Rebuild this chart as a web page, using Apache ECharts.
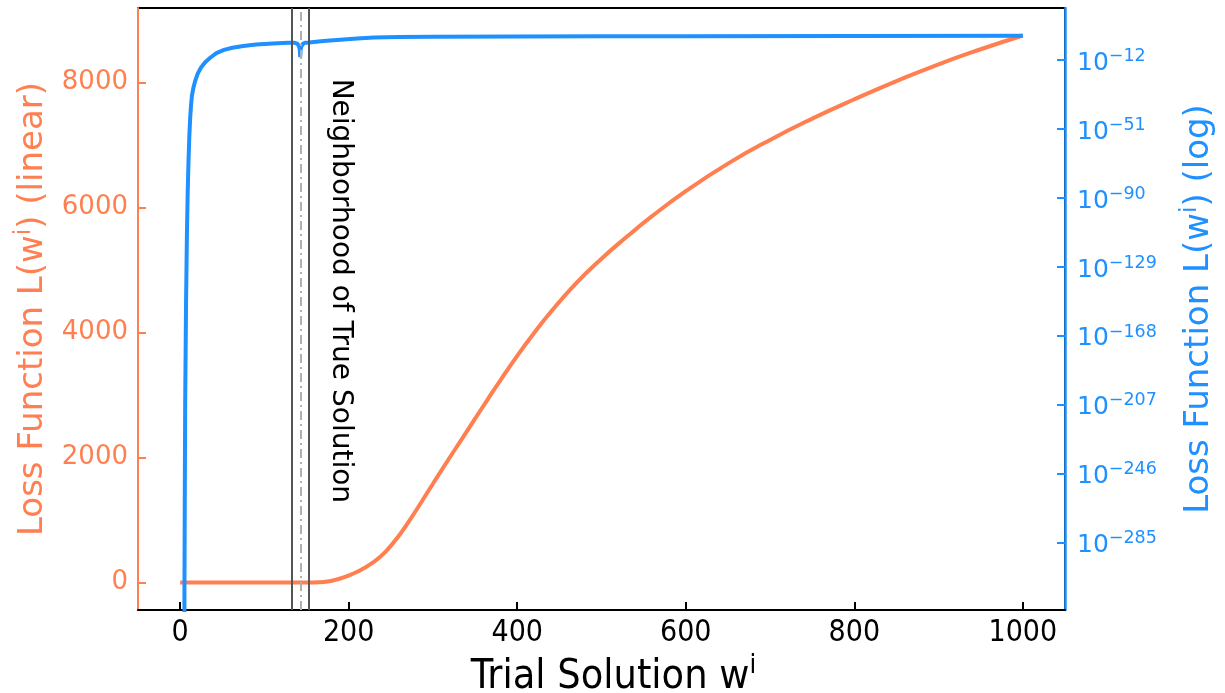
<!DOCTYPE html>
<html>
<head>
<meta charset="utf-8">
<script src="https://cdn.jsdelivr.net/npm/echarts@6/dist/echarts.min.js"></script>
<style>
  html, body { margin: 0; padding: 0; background: #fff; }
  #main { width: 1225px; height: 693px; }
</style>
</head>
<body>
<div id="main"></div>
<script>
// trial solutions and loss on the linear (left) axis
var linW = [0, 50, 100, 150, 165, 175, 185, 195, 205, 215, 225, 235, 245, 258, 272, 285, 300, 318, 335, 350, 365, 380, 400, 420, 440, 470, 500, 530, 560, 600, 650, 700, 750, 800, 850, 900, 950, 1000];
var lossLinear = [0, 0, 0, 0, 3, 15, 45, 85, 140, 205, 285, 385, 510, 720, 990, 1260, 1580, 1960, 2310, 2620, 2930, 3235, 3625, 3990, 4330, 4790, 5180, 5530, 5860, 6260, 6700, 7080, 7420, 7730, 8020, 8290, 8530, 8750];

// same loss on the log (right) axis, stored as base-10 exponents
var logW = [5, 5.5, 6, 7, 8, 9, 10, 11, 12, 13, 14, 16, 18, 21, 25, 30, 36, 43, 52, 62, 75, 90, 110, 128, 136, 139, 141, 142, 142.5, 143, 144, 146, 149, 153, 170, 190, 210, 230, 260, 300, 400, 500, 600, 800, 1000];
var lossLogExp = [-330, -260, -205, -150, -112, -86, -68, -54, -44, -37, -32, -27, -23.5, -19.5, -16, -13, -10.5, -8, -6.2, -5, -4, -3.2, -2.6, -2.2, -2.2, -2.7, -4, -6, -10.3, -6, -4, -2.7, -2.1, -2.0, -1.2, -0.4, 0.3, 0.8, 1.05, 1.2, 1.4, 1.5, 1.55, 1.65, 1.75];

var xTicks = [0, 200, 400, 600, 800, 1000];
var linTicks = [0, 2000, 4000, 6000, 8000];
var logTicks = [-285, -246, -207, -168, -129, -90, -51, -12];

// neighborhood of the true solution
var trueSolution = 143;
var neighborhood = [133, 153];

var ORANGE = '#FF7F50';
var BLUE = '#1E90FF';
var FONT = 'DejaVu Sans';
var FONT_X = 'DejaVu Sans Condensed';

function pairs(xs, ys) {
    var out = [];
    for (var i = 0; i < xs.length; i++) out.push([xs[i], ys[i]]);
    return out;
}

var chart = echarts.init(document.getElementById('main'));

var option = {
    animation: false,
    textStyle: { fontFamily: FONT },
    grid: {
        left: 138, right: 160, top: 8, bottom: 83,
        outerBoundsMode: 'none',
        show: true, borderColor: '#000', borderWidth: 2
    },
    xAxis: {
        type: 'value',
        min: -50, max: 1050,
        name: 'Trial Solution w{s|i}',
        nameLocation: 'middle',
        nameGap: 32,
        nameTextStyle: {
            fontSize: 41, color: '#000', fontFamily: FONT_X,
            padding: [0, 0, 0, 24],
            rich: { s: { fontSize: 27, color: '#000', fontFamily: FONT_X, padding: [0, 0, 22, 0] } }
        },
        axisLine: { onZero: false, lineStyle: { color: '#000', width: 2 } },
        axisTick: { inside: true, length: 8, customValues: xTicks, lineStyle: { color: '#000', width: 2 } },
        axisLabel: {
            customValues: xTicks, fontSize: 30, color: '#000', margin: 8, fontFamily: FONT_X,
            formatter: function (v) { return String(v); }
        },
        splitLine: { show: false }
    },
    yAxis: [{
        type: 'value',
        position: 'left',
        min: -440, max: 9190,
        name: 'Loss Function L(w{s|i}) (linear)',
        nameLocation: 'middle',
        nameGap: 84,
        nameTextStyle: {
            fontSize: 34, color: ORANGE, fontFamily: FONT,
            rich: { s: { fontSize: 23, color: ORANGE, fontFamily: FONT, padding: [0, 0, 18, 0] } }
        },
        axisLine: { show: true, onZero: false, lineStyle: { color: ORANGE, width: 2 } },
        axisTick: { show: true, inside: true, length: 8, customValues: linTicks, lineStyle: { color: ORANGE, width: 2 } },
        axisLabel: {
            customValues: linTicks, fontSize: 26, color: ORANGE, margin: 10,
            formatter: function (v) { return String(v); }
        },
        splitLine: { show: false }
    }, {
        type: 'value',
        position: 'right',
        min: -323, max: 17.5,
        name: 'Loss Function L(w{s|i}) (log)',
        nameLocation: 'middle',
        nameGap: 114,
        nameTextStyle: {
            fontSize: 34, color: BLUE, fontFamily: FONT,
            rich: { s: { fontSize: 23, color: BLUE, fontFamily: FONT, padding: [0, 0, 18, 0] } }
        },
        axisLine: { show: true, onZero: false, lineStyle: { color: BLUE, width: 2.5 } },
        axisTick: { show: true, inside: true, length: 8, customValues: logTicks, lineStyle: { color: BLUE, width: 2 } },
        axisLabel: {
            customValues: logTicks,
            margin: 12,
            formatter: function (v) {
                return '{b|10}{s|\u2212' + Math.round(-v) + '}';
            },
            rich: {
                b: { fontSize: 25, color: BLUE, fontFamily: FONT, padding: [6, 0, 0, 0] },
                s: { fontSize: 17.5, color: BLUE, fontFamily: FONT, padding: [0, 0, 8, 0] }
            }
        },
        splitLine: { show: false }
    }],
    series: [{
        name: 'linear',
        type: 'line',
        yAxisIndex: 0,
        data: pairs(linW, lossLinear),
        smooth: 0.5,
        showSymbol: false,
        lineStyle: { color: ORANGE, width: 4 },
        z: 2
    }, {
        name: 'log',
        type: 'line',
        yAxisIndex: 1,
        data: pairs(logW, lossLogExp),
        showSymbol: false,
        lineStyle: { color: BLUE, width: 4 },
        z: 3
    }, {
        name: 'neighborhood',
        type: 'line',
        yAxisIndex: 0,
        data: [],
        z: 5,
        markLine: {
            silent: true,
            symbol: 'none',
            label: { show: false },
            data: [
                { xAxis: neighborhood[0], lineStyle: { color: '#555', width: 2, type: 'solid' } },
                { xAxis: trueSolution, lineStyle: { color: '#b0b0b0', width: 2, type: [9, 4, 2, 4] } },
                { xAxis: neighborhood[1], lineStyle: { color: '#555', width: 2, type: 'solid' } }
            ]
        }
    }]
};

chart.setOption(option);

// rotated annotation next to the neighborhood lines
var anchor = chart.convertToPixel({ xAxisIndex: 0, yAxisIndex: 0 }, [190, 8060]);
chart.setOption({
    graphic: [{
        type: 'text',
        x: anchor[0],
        y: anchor[1],
        rotation: -Math.PI / 2,
        style: {
            text: 'Neighborhood of True Solution',
            fontSize: 28,
            fontFamily: FONT,
            fill: '#000',
            align: 'left',
            verticalAlign: 'middle'
        },
        z: 10
    }]
});
</script>
</body>
</html>
